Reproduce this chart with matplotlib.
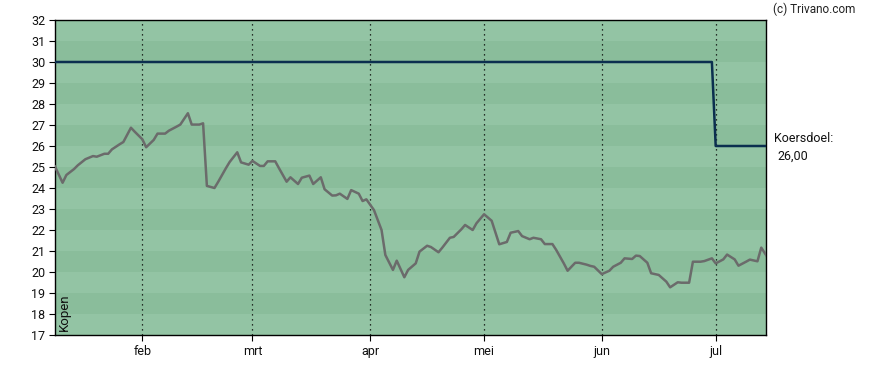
import matplotlib

matplotlib.use("Agg")
import matplotlib.pyplot as plt
import pandas as pd

plt.rcParams["font.family"] = ["Roboto", "DejaVu Sans"]

# koers (slotkoers) per datum
price_dates = [
    "2024-01-09", "2024-01-11", "2024-01-12", "2024-01-14", "2024-01-15",
    "2024-01-17", "2024-01-19", "2024-01-20", "2024-01-22", "2024-01-23",
    "2024-01-24", "2024-01-26", "2024-01-27", "2024-01-29", "2024-01-30",
    "2024-02-01", "2024-02-02", "2024-02-04", "2024-02-05", "2024-02-07",
    "2024-02-08", "2024-02-10", "2024-02-11", "2024-02-13", "2024-02-14",
    "2024-02-16", "2024-02-17", "2024-02-18", "2024-02-20", "2024-02-21",
    "2024-02-23", "2024-02-24", "2024-02-26", "2024-02-27", "2024-02-29",
    "2024-03-01", "2024-03-03", "2024-03-04", "2024-03-05", "2024-03-07",
    "2024-03-08", "2024-03-10", "2024-03-11", "2024-03-13", "2024-03-14",
    "2024-03-16", "2024-03-17", "2024-03-19", "2024-03-20", "2024-03-22",
    "2024-03-23", "2024-03-24", "2024-03-26", "2024-03-27", "2024-03-29",
    "2024-03-30", "2024-03-31", "2024-04-02", "2024-04-04", "2024-04-05",
    "2024-04-07", "2024-04-08", "2024-04-10", "2024-04-11", "2024-04-13",
    "2024-04-14", "2024-04-16", "2024-04-17", "2024-04-19", "2024-04-20",
    "2024-04-22", "2024-04-23", "2024-04-25", "2024-04-26", "2024-04-28",
    "2024-04-29", "2024-05-01", "2024-05-03", "2024-05-05", "2024-05-07",
    "2024-05-08", "2024-05-10", "2024-05-11", "2024-05-13", "2024-05-14",
    "2024-05-16", "2024-05-17", "2024-05-19", "2024-05-20", "2024-05-22",
    "2024-05-23", "2024-05-25", "2024-05-26", "2024-05-28", "2024-05-29",
    "2024-05-30", "2024-06-01", "2024-06-03", "2024-06-04", "2024-06-06",
    "2024-06-07", "2024-06-09", "2024-06-10", "2024-06-11", "2024-06-13",
    "2024-06-14", "2024-06-16", "2024-06-18", "2024-06-19", "2024-06-21",
    "2024-06-22", "2024-06-24", "2024-06-25", "2024-06-27", "2024-06-28",
    "2024-06-30", "2024-07-01", "2024-07-03", "2024-07-04", "2024-07-06",
    "2024-07-07", "2024-07-09", "2024-07-10", "2024-07-12", "2024-07-13",
    "2024-07-15",
]
price_values = [
    25.02, 24.25, 24.62, 24.90, 25.08,
    25.37, 25.52, 25.49, 25.63, 25.63,
    25.84, 26.08, 26.19, 26.87, 26.68,
    26.32, 25.94, 26.29, 26.59, 26.59,
    26.73, 26.92, 27.02, 27.56, 27.02,
    27.02, 27.08, 24.10, 24.00, 24.30,
    24.94, 25.24, 25.70, 25.22, 25.11,
    25.29, 25.05, 25.05, 25.27, 25.27,
    24.94, 24.30, 24.51, 24.19, 24.49,
    24.59, 24.19, 24.51, 23.94, 23.64,
    23.65, 23.73, 23.48, 23.90, 23.73,
    23.38, 23.46, 22.95, 22.00, 20.81,
    20.10, 20.54, 19.75, 20.10, 20.41,
    20.97, 21.25, 21.19, 20.94, 21.16,
    21.63, 21.67, 22.03, 22.24, 22.00,
    22.32, 22.75, 22.44, 21.32, 21.43,
    21.87, 21.95, 21.71, 21.56, 21.63,
    21.56, 21.33, 21.33, 21.05, 20.41,
    20.06, 20.44, 20.44, 20.35, 20.29,
    20.25, 19.90, 20.06, 20.25, 20.44,
    20.65, 20.62, 20.78, 20.76, 20.44,
    19.94, 19.86, 19.54, 19.27, 19.51,
    19.49, 19.49, 20.49, 20.49, 20.52,
    20.65, 20.41, 20.60, 20.83, 20.60,
    20.30, 20.49, 20.59, 20.51, 21.16,
    20.60,
]

# koersdoel van de analist
target_dates = ["2024-01-09", "2024-06-30", "2024-07-01", "2024-07-15"]
target_values = [30.0, 30.0, 26.0, 26.0]

month_ticks = ["2024-02-01", "2024-03-01", "2024-04-01",
               "2024-05-01", "2024-06-01", "2024-07-01"]
month_labels = ["feb", "mrt", "apr", "mei", "jun", "jul"]

Y_MIN, Y_MAX = 17, 32
BAND_LIGHT = "#93c4a4"
BAND_DARK = "#8abd9b"

fig = plt.figure(figsize=(8.88, 3.70), dpi=100)
ax = fig.add_axes([55 / 888, 35 / 370, 711 / 888, 315 / 370])

for k in range(Y_MIN, Y_MAX):
    ax.axhspan(k, k + 1, color=BAND_LIGHT if k % 2 else BAND_DARK,
               lw=0, zorder=0)

px = pd.to_datetime(price_dates)
tx = pd.to_datetime(target_dates)
ticks = pd.to_datetime(month_ticks)

for t in ticks:
    ax.axvline(t, color="black", lw=0.9, ls=(0, (1, 3)), zorder=1)

ax.plot(tx, target_values, color="#0b2f4f", lw=1.8, zorder=3)
ax.plot(px, price_values, color="#6b6b6b", lw=1.8, zorder=4)

ax.set_xlim(pd.Timestamp("2024-01-09"), pd.Timestamp("2024-07-14 06:00"))
ax.set_ylim(Y_MIN, Y_MAX)
ax.set_yticks(range(Y_MIN, Y_MAX + 1))
ax.set_xticks(ticks)
ax.set_xticklabels(month_labels)
ax.tick_params(axis="both", labelsize=9, length=4, width=0.8,
               color="black", labelcolor="#111111", pad=3)
ax.tick_params(axis="x", pad=3.5)
for side in ax.spines.values():
    side.set_color("black")
    side.set_linewidth(1.0)

ax.text(0.004, 0.012, "Kopen", rotation=90, transform=ax.transAxes,
        fontsize=9.5, ha="left", va="bottom", color="#111111")

fig.text(773 / 888, 1 - 9 / 370, "(c) Trivano.com", fontsize=8.5,
         ha="left", va="center", color="#222222")
fig.text(774 / 888, 1 - 138 / 370, "Koersdoel:", fontsize=9,
         ha="left", va="center", color="#111111")
fig.text(777 / 888, 1 - 156 / 370, "26,00", fontsize=9,
         ha="left", va="center", color="#111111")

fig.savefig("out.png", dpi=100)
